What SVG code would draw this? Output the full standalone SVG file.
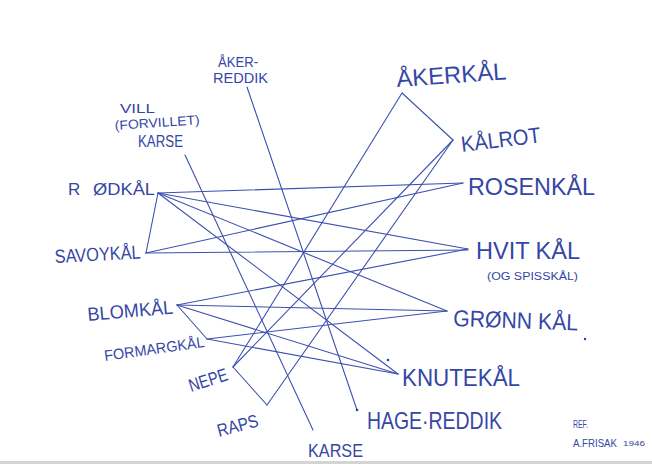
<svg xmlns="http://www.w3.org/2000/svg" width="652" height="464" viewBox="0 0 652 464">
  <style>
    .lbl { font-family: "Liberation Sans", "DejaVu Sans", sans-serif; fill: #3446a6; }
    .edge { stroke: #3d50b0; stroke-width: 1.1; fill: none; stroke-linecap: round; }
    .dot { fill: #2e3f9a; }
  </style>
  <rect x="0" y="0" width="652" height="464" fill="#ffffff"/>
  <rect x="0" y="461" width="652" height="3" fill="#d4d4d4"/>

  <g id="connectors">
    <line class="edge" x1="247" y1="87" x2="357" y2="410"/>
    <line class="edge" x1="185" y1="155" x2="313" y2="430"/>
    <line class="edge" x1="402" y1="93" x2="453" y2="140"/>
    <line class="edge" x1="402" y1="93" x2="233" y2="367"/>
    <line class="edge" x1="453" y1="140" x2="233" y2="367"/>
    <line class="edge" x1="453" y1="140" x2="267" y2="405"/>
    <line class="edge" x1="233" y1="367" x2="267" y2="405"/>
    <line class="edge" x1="158" y1="193" x2="146" y2="253"/>
    <line class="edge" x1="158" y1="193" x2="463" y2="183"/>
    <line class="edge" x1="158" y1="193" x2="468" y2="249"/>
    <line class="edge" x1="158" y1="193" x2="447" y2="311"/>
    <line class="edge" x1="158" y1="193" x2="398" y2="374"/>
    <line class="edge" x1="146" y1="253" x2="463" y2="183"/>
    <line class="edge" x1="146" y1="253" x2="468" y2="250"/>
    <line class="edge" x1="177" y1="305" x2="468" y2="249"/>
    <line class="edge" x1="177" y1="305" x2="447" y2="311"/>
    <line class="edge" x1="177" y1="305" x2="398" y2="374"/>
    <line class="edge" x1="177" y1="305" x2="207" y2="339"/>
    <line class="edge" x1="207" y1="339" x2="447" y2="311"/>
    <line class="edge" x1="207" y1="339" x2="398" y2="374"/>
  </g>

  <g id="aker-reddik">
    <text class="lbl" x="218" y="67" font-size="15" textLength="40" lengthAdjust="spacingAndGlyphs">ÅKER-</text>
    <text class="lbl" x="213" y="83" font-size="14" textLength="55" lengthAdjust="spacingAndGlyphs">REDDIK</text>
  </g>
  <g id="vill-karse">
    <text class="lbl" x="120" y="113" font-size="13" textLength="35" lengthAdjust="spacingAndGlyphs">VILL</text>
    <text class="lbl" x="115" y="130" font-size="13" textLength="85" lengthAdjust="spacingAndGlyphs" transform="rotate(-4 115 130)">(FORVILLET)</text>
    <text class="lbl" x="138" y="147" font-size="16" textLength="45" lengthAdjust="spacingAndGlyphs">KARSE</text>
  </g>
  <g id="rodkal">
    <text class="lbl" x="68" y="195" font-size="17"><tspan>R</tspan><tspan x="93" textLength="62" lengthAdjust="spacingAndGlyphs">ØDKÅL</tspan></text>
  </g>
  <g id="savoykal">
    <text class="lbl" x="55" y="263" font-size="19" textLength="86" lengthAdjust="spacingAndGlyphs" transform="rotate(-3 55 263)">SAVOYKÅL</text>
  </g>
  <g id="blomkal">
    <text class="lbl" x="88" y="321" font-size="19" textLength="86" lengthAdjust="spacingAndGlyphs" transform="rotate(-5 88 321)">BLOMKÅL</text>
  </g>
  <g id="formargkal">
    <text class="lbl" x="105" y="361" font-size="15" textLength="101" lengthAdjust="spacingAndGlyphs" transform="rotate(-8 105 361)">FORMARGKÅL</text>
  </g>
  <g id="nepe">
    <text class="lbl" x="191" y="392" font-size="18" textLength="40" lengthAdjust="spacingAndGlyphs" transform="rotate(-18 191 392)">NEPE</text>
  </g>
  <g id="raps">
    <text class="lbl" x="219" y="437" font-size="18" textLength="42" lengthAdjust="spacingAndGlyphs" transform="rotate(-15 219 437)">RAPS</text>
  </g>
  <g id="karse">
    <text class="lbl" x="308" y="457" font-size="19" textLength="55" lengthAdjust="spacingAndGlyphs">KARSE</text>
  </g>
  <g id="hage-reddik">
    <circle class="dot" cx="357" cy="410" r="1.3"/>
    <text class="lbl" x="367" y="429" font-size="24" textLength="135" lengthAdjust="spacingAndGlyphs">HAGE·REDDIK</text>
  </g>
  <g id="knutekal">
    <circle class="dot" cx="388" cy="360" r="1.3"/>
    <text class="lbl" x="402" y="386" font-size="24" textLength="118" lengthAdjust="spacingAndGlyphs">KNUTEKÅL</text>
  </g>
  <g id="gronnkal">
    <text class="lbl" x="453" y="326" font-size="23" textLength="125" lengthAdjust="spacingAndGlyphs" transform="rotate(2 453 326)">GRØNN KÅL</text>
    <circle class="dot" cx="585" cy="339" r="1.2"/>
  </g>
  <g id="hvitkal">
    <text class="lbl" x="476" y="259" font-size="24" textLength="104" lengthAdjust="spacingAndGlyphs">HVIT KÅL</text>
    <text class="lbl" x="487" y="280" font-size="10" textLength="91" lengthAdjust="spacingAndGlyphs">(OG SPISSKÅL)</text>
  </g>
  <g id="rosenkal">
    <text class="lbl" x="468" y="195" font-size="23" textLength="127" lengthAdjust="spacingAndGlyphs">ROSENKÅL</text>
  </g>
  <g id="kalrot">
    <text class="lbl" x="462" y="152" font-size="22" textLength="80" lengthAdjust="spacingAndGlyphs" transform="rotate(-7 462 152)">KÅLROT</text>
  </g>
  <g id="akerkal">
    <text class="lbl" x="397" y="87" font-size="24" textLength="110" lengthAdjust="spacingAndGlyphs" transform="rotate(-4 397 87)">ÅKERKÅL</text>
  </g>
  <g id="ref">
    <text class="lbl" x="573" y="428" font-size="11" textLength="15" lengthAdjust="spacingAndGlyphs">REF.</text>
    <text class="lbl" x="573" y="447" font-size="11" textLength="44" lengthAdjust="spacingAndGlyphs">A.FRISAK</text>
    <text class="lbl" x="623" y="446" font-size="8" textLength="22" lengthAdjust="spacingAndGlyphs">1946</text>
  </g>
</svg>
